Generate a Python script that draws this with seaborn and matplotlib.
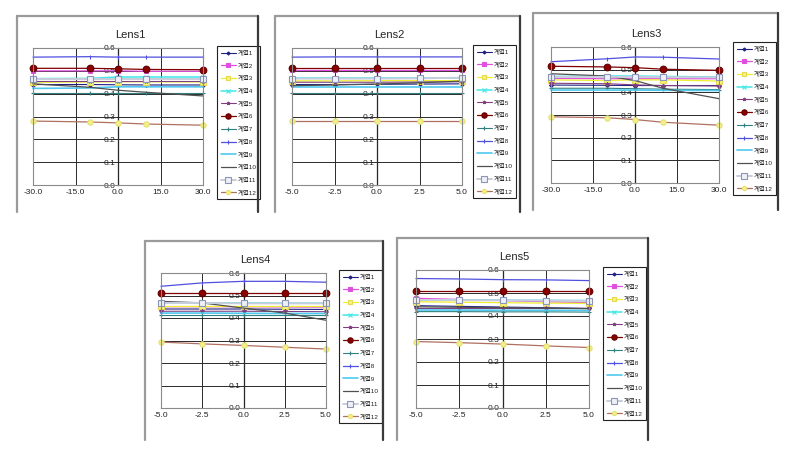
import matplotlib
matplotlib.use("Agg")
import matplotlib.pyplot as plt
import seaborn as sns
from matplotlib.lines import Line2D

# ===== DATA =====
lens_titles = ["Lens1", "Lens2", "Lens3", "Lens4", "Lens5"]

x_wide = [-30, -10, 0, 10, 30]
x_narrow = [-5, -2.5, 0, 2.5, 5]
xticks_wide = [-30, -15, 0, 15, 30]
xticks_narrow = [-5, -2.5, 0, 2.5, 5]
yticks = [0.0, 0.1, 0.2, 0.3, 0.4, 0.5, 0.6]

series_names = ["계열1", "계열2", "계열3", "계열4", "계열5", "계열6",
                "계열7", "계열8", "계열9", "계열10", "계열11", "계열12"]

lens1_values = [
    [0.440, 0.440, 0.439, 0.438, 0.438],
    [0.500, 0.500, 0.500, 0.498, 0.498],
    [0.450, 0.451, 0.452, 0.452, 0.451],
    [0.466, 0.467, 0.473, 0.473, 0.473],
    [0.455, 0.455, 0.455, 0.455, 0.455],
    [0.511, 0.511, 0.509, 0.506, 0.505],
    [0.404, 0.404, 0.404, 0.404, 0.404],
    [0.560, 0.562, 0.560, 0.560, 0.560],
    [0.423, 0.425, 0.430, 0.430, 0.430],
    [0.443, 0.428, 0.415, 0.406, 0.390],
    [0.465, 0.465, 0.465, 0.465, 0.465],
    [0.280, 0.276, 0.272, 0.267, 0.262],
]
lens2_values = [
    [0.440, 0.440, 0.441, 0.442, 0.443],
    [0.505, 0.505, 0.505, 0.505, 0.505],
    [0.456, 0.456, 0.457, 0.457, 0.457],
    [0.470, 0.470, 0.470, 0.470, 0.470],
    [0.450, 0.450, 0.450, 0.451, 0.452],
    [0.511, 0.511, 0.511, 0.511, 0.511],
    [0.404, 0.404, 0.404, 0.404, 0.404],
    [0.560, 0.561, 0.561, 0.561, 0.561],
    [0.428, 0.428, 0.428, 0.428, 0.428],
    [0.435, 0.438, 0.442, 0.448, 0.455],
    [0.466, 0.466, 0.466, 0.467, 0.470],
    [0.279, 0.279, 0.279, 0.279, 0.279],
]
lens3_values = [
    [0.432, 0.431, 0.430, 0.430, 0.430],
    [0.462, 0.460, 0.460, 0.460, 0.460],
    [0.455, 0.452, 0.455, 0.455, 0.450],
    [0.470, 0.472, 0.472, 0.470, 0.468],
    [0.440, 0.438, 0.433, 0.430, 0.428],
    [0.515, 0.512, 0.509, 0.502, 0.497],
    [0.418, 0.418, 0.416, 0.414, 0.412],
    [0.535, 0.548, 0.556, 0.555, 0.547],
    [0.410, 0.410, 0.410, 0.409, 0.408],
    [0.482, 0.472, 0.452, 0.418, 0.372],
    [0.468, 0.468, 0.468, 0.467, 0.466],
    [0.292, 0.288, 0.280, 0.268, 0.255],
]
lens4_values = [
    [0.440, 0.440, 0.440, 0.439, 0.438],
    [0.450, 0.450, 0.450, 0.449, 0.448],
    [0.455, 0.455, 0.455, 0.455, 0.455],
    [0.468, 0.468, 0.467, 0.466, 0.466],
    [0.430, 0.430, 0.430, 0.429, 0.428],
    [0.510, 0.510, 0.510, 0.510, 0.510],
    [0.415, 0.415, 0.415, 0.415, 0.415],
    [0.541, 0.556, 0.563, 0.563, 0.559],
    [0.422, 0.422, 0.421, 0.420, 0.420],
    [0.474, 0.467, 0.444, 0.422, 0.390],
    [0.467, 0.467, 0.465, 0.465, 0.465],
    [0.293, 0.285, 0.278, 0.270, 0.262],
]
lens5_values = [
    [0.445, 0.442, 0.439, 0.436, 0.433],
    [0.477, 0.472, 0.467, 0.462, 0.458],
    [0.462, 0.460, 0.458, 0.456, 0.455],
    [0.470, 0.470, 0.469, 0.468, 0.467],
    [0.436, 0.436, 0.436, 0.436, 0.436],
    [0.509, 0.509, 0.509, 0.509, 0.509],
    [0.419, 0.419, 0.418, 0.418, 0.417],
    [0.563, 0.561, 0.558, 0.557, 0.554],
    [0.426, 0.426, 0.425, 0.425, 0.424],
    [0.440, 0.438, 0.436, 0.434, 0.432],
    [0.470, 0.469, 0.468, 0.467, 0.466],
    [0.289, 0.284, 0.278, 0.270, 0.263],
]

lens_x = [x_wide, x_narrow, x_wide, x_narrow, x_narrow]
lens_xticks = [xticks_wide, xticks_narrow, xticks_wide, xticks_narrow, xticks_narrow]
lens_values = [lens1_values, lens2_values, lens3_values, lens4_values, lens5_values]

# ===== STYLES =====
line_colors = ["#202080", "#E050E0", "#EEEE30", "#40E8E8", "#804080", "#800000",
               "#308080", "#5050E0", "#50C8F0", "#505050", "#C8CCDC", "#B07060"]
marker_shapes = ["D", "s", "s", "x", "*", "o", "+", "|", None, None, "s", "o"]
marker_sizes = [2, 3, 4, 3, 3, 4.8, 3, 3, 0, 0, 4.8, 3.8]
marker_faces = ["#202080", "#E050E0", "#F4F480", "#40E8E8", "#804080", "#8A0000",
                "#308080", "#5050E0", "#50C8F0", "#505050", "#EEF0F8", "#F4F090"]
marker_edges = ["#202080", "#E050E0", "#E8D850", "#40E8E8", "#804080", "#600000",
                "#308080", "#5050E0", "#50C8F0", "#505050", "#8C94B8", "#E8E070"]
line_widths = [0.8, 0.9, 0.9, 1.1, 0.8, 0.9, 0.8, 0.9, 1.2, 0.9, 1.4, 0.9]

# ===== LAYOUT (pixels, image is 795 x 451) =====
W, H = 795, 451
axes_px = [(33, 48, 203, 185), (292, 48, 462, 185), (551, 47, 719, 183),
           (161, 273, 326, 408), (416, 270, 589, 408)]
legend_px = [(217, 46), (473, 45), (733, 42), (339, 270), (603, 267)]
frame_px = [(17, 16, 258, 212), (275, 16, 520, 212), (533, 13, 778, 210),
            (145, 241, 383, 440), (397, 238, 648, 440)]

sns.set_style("white")
plt.rcParams["font.family"] = ["Liberation Sans", "Noto Sans CJK KR", "DejaVu Sans"]

fig = plt.figure(figsize=(W / 100, H / 100), dpi=100)

# chart frames
for (x0, y0, x1, y1) in frame_px:
    fx0, fx1 = x0 / W, x1 / W
    fy0, fy1 = 1 - y1 / H, 1 - y0 / H
    fig.add_artist(Line2D([fx0, fx0], [fy0, fy1], color="#9a9a9a", lw=1.6, transform=fig.transFigure))
    fig.add_artist(Line2D([fx0, fx1], [fy1, fy1], color="#9a9a9a", lw=1.6, transform=fig.transFigure))
    fig.add_artist(Line2D([fx1, fx1], [fy0, fy1], color="#3a3a3a", lw=1.6, transform=fig.transFigure))

for i, title in enumerate(lens_titles):
    x0, y0, x1, y1 = axes_px[i]
    ax = fig.add_axes([x0 / W, 1 - y1 / H, (x1 - x0) / W, (y1 - y0) / H])

    xs = lens_x[i]
    for k, name in enumerate(series_names):
        sns.lineplot(
            x=xs,
            y=lens_values[i][k],
            ax=ax,
            color=line_colors[k],
            marker=marker_shapes[k],
            markersize=marker_sizes[k],
            markerfacecolor=marker_faces[k],
            markeredgecolor=marker_edges[k],
            markeredgewidth=0.8,
            linewidth=line_widths[k],
            label=name,
            clip_on=False,
        )

    ticks = lens_xticks[i]
    ax.set_xlim(ticks[0], ticks[-1])
    ax.set_ylim(0, 0.6)
    ax.set_xticks(ticks)
    ax.set_xticklabels([f"{t:.1f}" for t in ticks], fontsize=6, color="#222222")
    ax.set_yticks(yticks)
    ax.tick_params(axis="y", labelleft=False, length=0)
    ax.tick_params(axis="x", length=0, pad=3)
    ax.grid(True, color="#2a2a2a", linewidth=0.7)
    ax.set_axisbelow(True)
    for spine in ax.spines.values():
        spine.set_color("#8a8a8a")
        spine.set_linewidth(0.8)

    # y axis crossing at x = 0, like the spreadsheet chart
    sec = ax.secondary_yaxis(0.5)
    sec.set_alignment("left")
    sec.set_yticks(yticks)
    sec.set_yticklabels([f"{v:.1f}" for v in yticks], fontsize=6, color="#222222")
    sec.tick_params(length=0, pad=2)
    sec.spines["left"].set_color("#111111")
    sec.spines["left"].set_linewidth(0.9)

    ax.set_title(title, fontsize=8, x=0.57, pad=7)

    lx, ly = legend_px[i]
    anchor = ((lx - x0) / (x1 - x0), (y1 - ly) / (y1 - y0))
    leg = ax.legend(
        loc="upper left",
        bbox_to_anchor=anchor,
        fontsize=4.6,
        frameon=True,
        fancybox=False,
        edgecolor="#222222",
        framealpha=1,
        labelspacing=1.05,
        handlelength=2.3,
        handletextpad=0.3,
        borderpad=0.6,
        borderaxespad=0,
        markerscale=0.8,
    )
    leg.get_frame().set_linewidth(0.8)

fig.savefig("out.png", dpi=100)
